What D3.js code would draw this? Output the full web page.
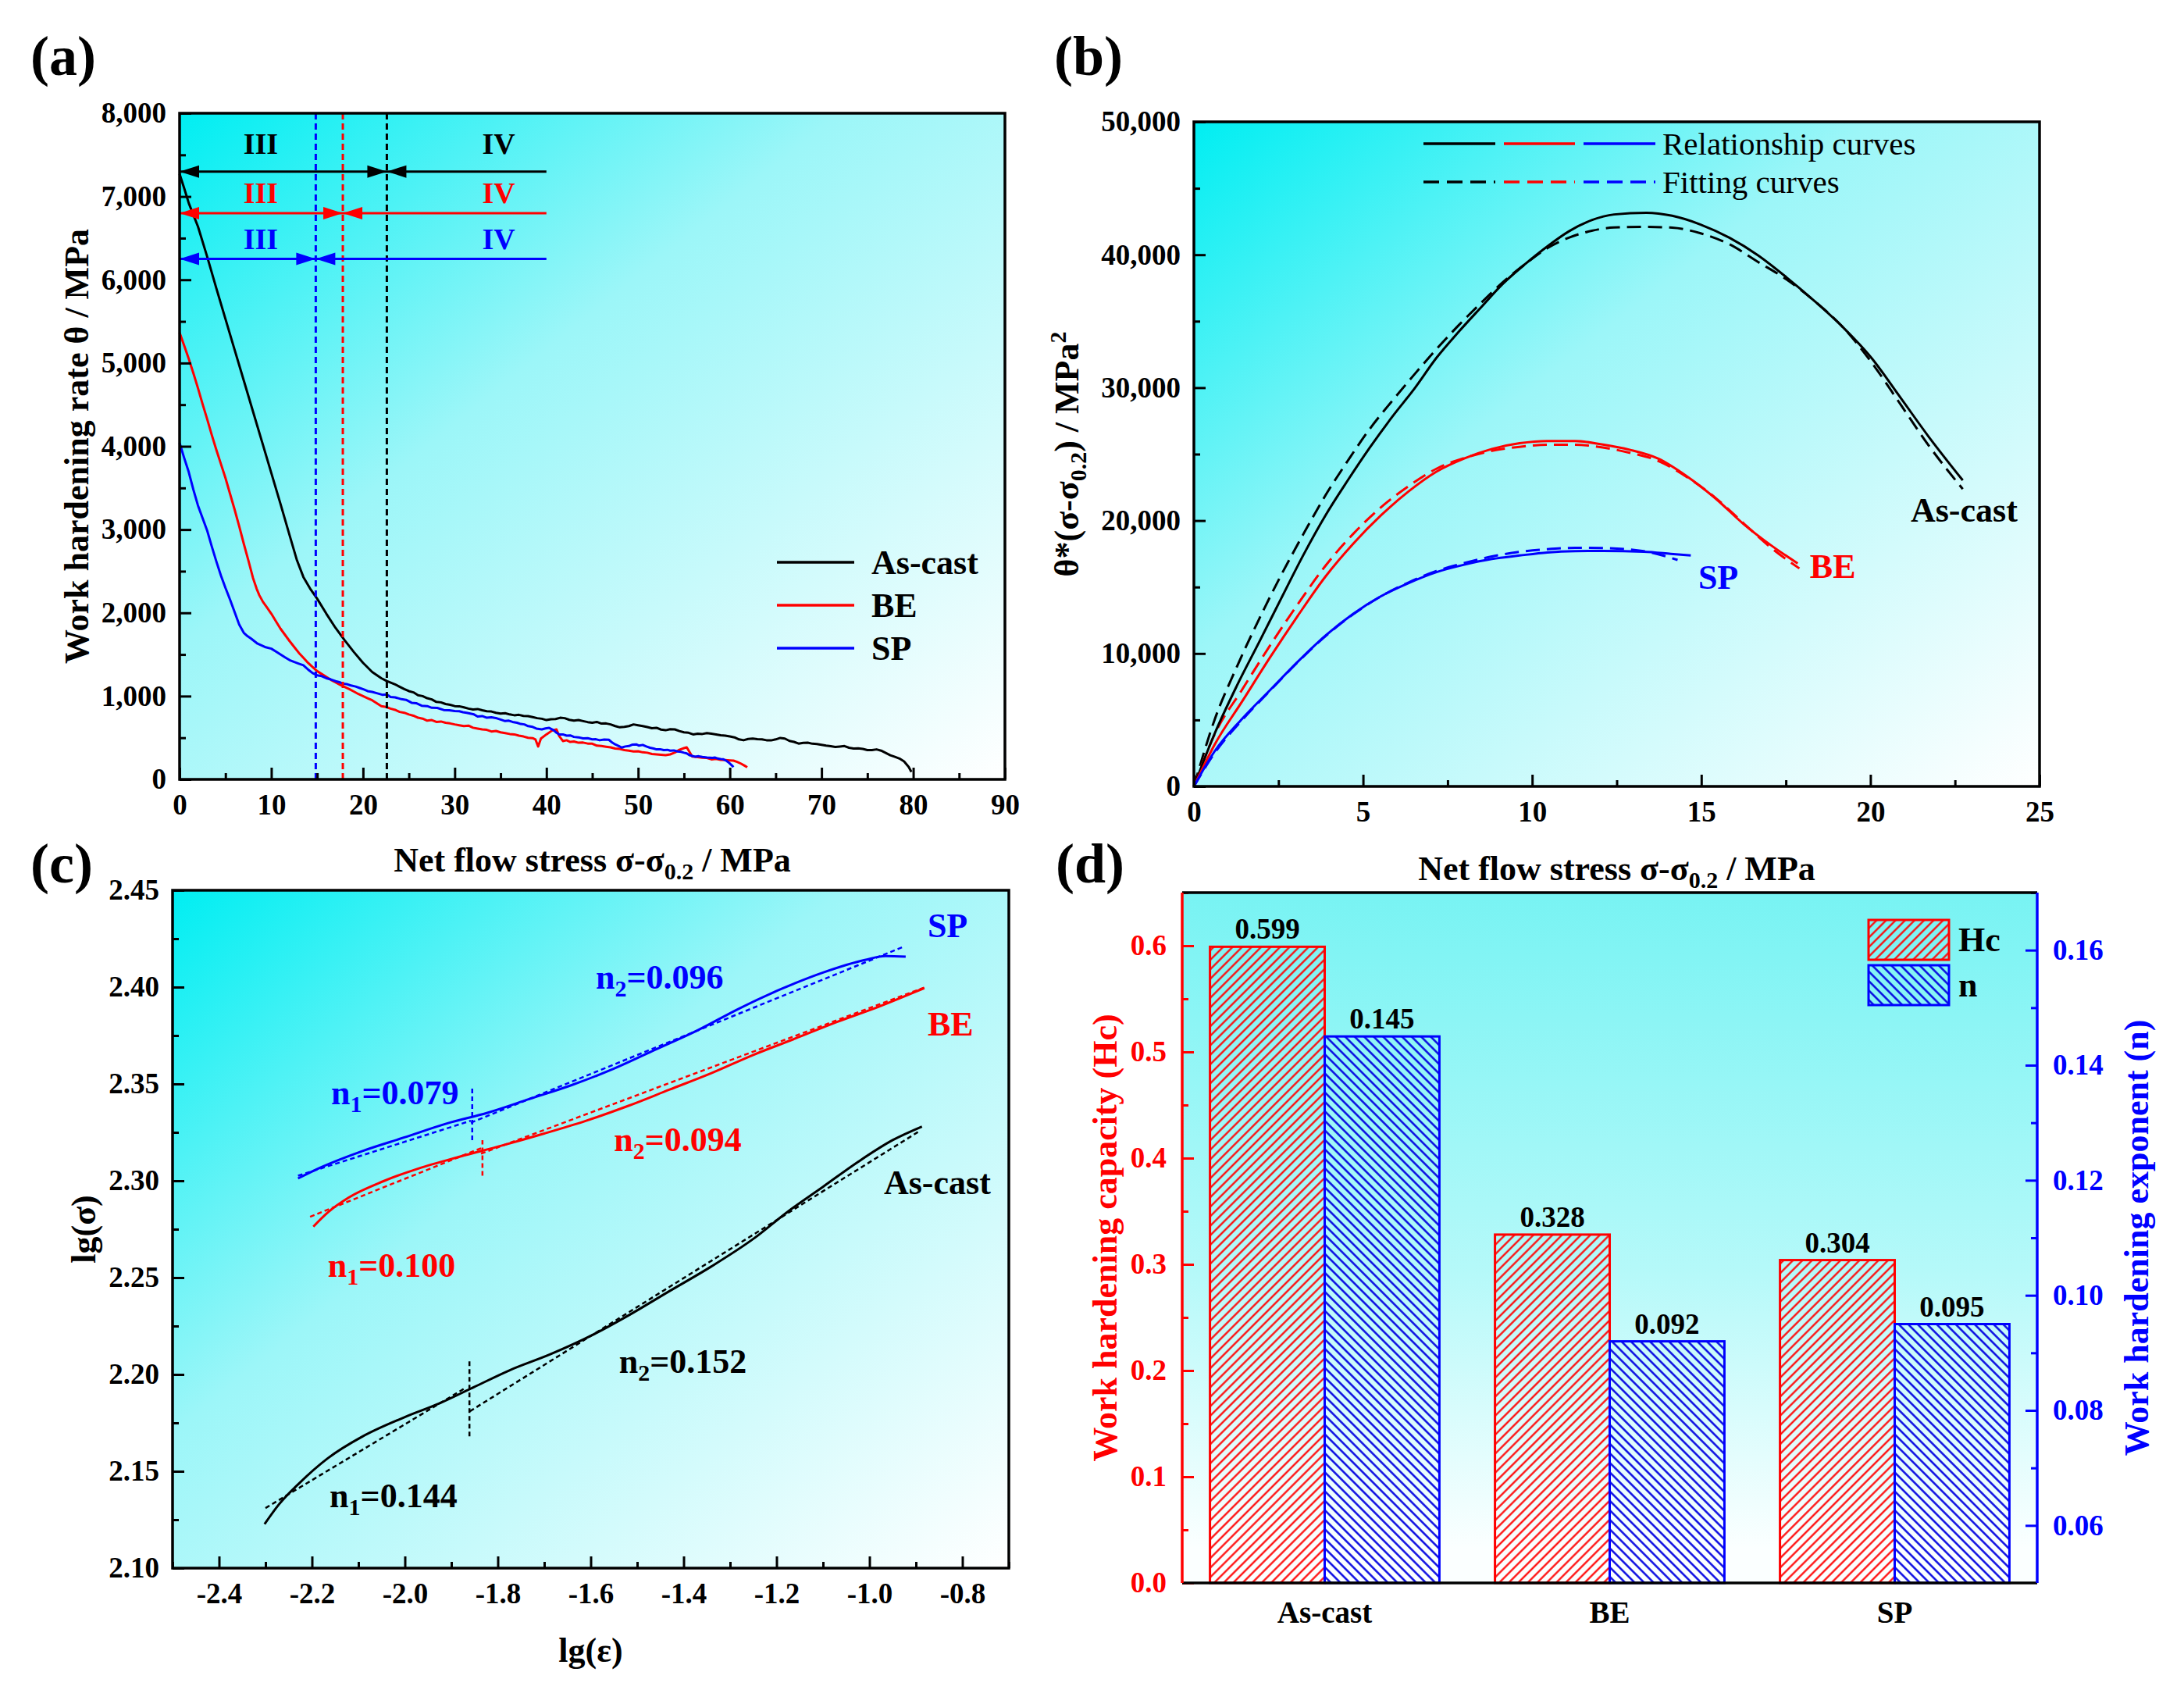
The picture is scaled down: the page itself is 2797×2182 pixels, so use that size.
<!DOCTYPE html>
<html>
<head>
<meta charset="utf-8">
<script src="https://cdn.jsdelivr.net/npm/d3@7"></script>
<style>
  body { margin: 0; background: #fff; }
  svg { display: block; }
</style>
</head>
<body>
<script>
// ---------- data: panel (a) work hardening rate vs net flow stress ----------
const aAsCast = [[0,7270],[0.5,7100],[1,6920],[2,6640],[3,6280],[4,5900],[5,5530],[6,5160],[7,4790],[8,4420],[9,4050],[10,3680],[11,3310],[12,2930],[12.8,2630],[13.5,2430],[14.3,2280],[15,2170],[16,1990],[17,1820],[18,1670],[19,1530],[20,1400],[21,1290],[22,1215],[22.6,1180],[23.5,1140],[24.5,1085],
  [25,1060],[25.5,1045],[26,1010],[26.5,1000],[27,975],[27.5,960],[28,930],[28.5,925],[29,905],[29.5,895],[30,880],[30.5,878],[31,865],[31.5,850],[32,840],[32.5,845],[33,830],[33.5,818],[34,815],[34.5,800],[35,790],[35.5,795],[36,780],[36.5,770],[37,775],[37.5,762],[38,760],[38.5,748],[39,735],[39.5,728],[40,712],[40.5,722],[41,725],[41.5,740],[42,735],[42.5,715],[43,705],[43.5,712],[44,700],[44.5,688],[45,680],[45.5,690],[46,670],[46.5,672],[47,660],[47.5,640],[48,625],[48.5,630],[49,640],[49.5,660],[50,650],[50.5,640],[51,628],[51.5,615],[52,620],[52.5,598],[53,590],[53.5,602],[54,600],[54.5,580],[55,565],[55.5,560],[56,540],[56.5,548],[57,545],[57.5,555],[58,548],[58.5,540],[59,530],[59.5,525],[60,515],[60.5,505],[61,480],[61.5,470],[62,485],[62.5,490],[63,482],[63.5,480],[64,470],[64.5,468],[65,480],[65.5,498],[66,490],[66.5,462],[67,450],[67.5,430],[68,438],[68.5,440],[69,428],[69.5,425],[70,415],[70.5,405],[71,398],[71.5,390],[72,395],[72.5,400],[73,380],[73.5,370],[74,372],[74.5,365],[75,352],[75.5,352],[76,360],[76.5,345],[77,318],[77.5,290],[78,270],[78.5,250],[79,215],[79.5,150],[79.8,90]];
const aBE = [[0,5365],[0.5,5210],[1,5050],[1.5,4880],[2,4700],[2.5,4510],[3,4330],[3.5,4140],[4,3960],[4.5,3790],[5,3620],[5.5,3430],[6,3240],[6.5,3040],[7,2830],[7.5,2630],[8,2420],[8.4,2290],[8.7,2210],[9.1,2130],[9.5,2070],[10,1990],[10.5,1900],[11,1810],[11.5,1735],[12,1660],[12.5,1590],[13,1520],[13.5,1460],[14,1400],[14.5,1350],[15,1300],[15.5,1265],[16,1230],[16.5,1195],[17,1165],[17.5,1135],[18,1110],[18.5,1085],[19,1055],[19.5,1025],
  [20,1000],[20.5,975],[21,950],[21.5,915],[22,880],[22.5,870],[23,850],[23.5,835],[24,810],[24.5,800],[25,780],[25.5,765],[26,740],[26.5,730],[27,705],[27.5,712],[28,690],[28.5,695],[29,680],[29.5,672],[30,660],[30.5,650],[31,640],[31.5,645],[32,620],[32.5,610],[33,600],[33.5,595],[34,575],[34.5,582],[35,565],[35.5,555],[36,545],[36.5,540],[37,525],[37.5,515],[38,500],[38.5,495],[38.8,480],[39.1,395],[39.4,490],[40,540],[40.6,585],[41.1,600],[41.4,520],[41.8,460],[42.2,470],[42.6,450],[43,455],[43.5,440],[44,442],[44.5,430],[45,428],[45.5,405],[46,400],[46.5,392],[47,385],[47.5,370],[48,365],[48.5,352],[49,345],[49.5,335],[50,338],[50.5,325],[51,320],[51.5,305],[52,300],[52.5,295],[53,290],[53.5,300],[54,322],[54.5,355],[55,375],[55.3,385],[55.6,330],[55.9,275],[56.5,268],[57,260],[57.5,258],[58,240],[58.5,245],[59,235],[59.5,232],[60,228],[60.4,225],[60.8,210],[61.2,190],[61.6,165],[61.9,145]];
const aSP = [[0,4040],[0.5,3860],[1,3690],[1.5,3480],[2,3290],[2.5,3140],[3,2990],[3.5,2800],[4,2620],[4.5,2450],[5,2300],[5.5,2160],[6,2010],[6.5,1860],[7,1760],[7.4,1720],[7.8,1690],[8.5,1630],[9.3,1590],[10,1570],[10.5,1536],[11,1500],[11.5,1465],[12,1432],[12.5,1410],[13,1390],[13.5,1370],[14,1320],[14.5,1276],[15,1250],[15.5,1240],[16,1215],[16.5,1200],[17,1180],[17.5,1165],[17.8,1150],[18.2,1145],[18.6,1130],[19.2,1115],[19.7,1095],[20.1,1080],
  [20.5,1060],[21,1050],[21.5,1035],[22.1,1016],[22.6,1020],[23,990],[23.5,985],[24.2,963],[24.7,955],[25.3,920],[25.8,915],[26.4,885],[27,880],[27.5,860],[28.1,858],[28.8,833],[29.4,830],[30,820],[30.5,818],[30.9,807],[31.3,800],[31.7,790],[32.1,780],[32.5,755],[33,760],[33.5,740],[34,745],[34.6,733],[35,718],[35.5,700],[35.9,705],[36.3,690],[36.8,680],[37.2,665],[37.6,660],[38,640],[38.5,630],[38.9,610],[39.5,600],[39.9,612],[40.3,618],[40.8,590],[41.1,560],[41.4,539],[41.8,540],[42.2,525],[42.6,528],[43,510],[43.5,505],[44,492],[44.5,494],[45,480],[45.4,482],[45.8,470],[46.3,478],[46.8,476],[47.2,440],[47.5,420],[47.9,400],[48.2,382],[48.6,395],[49,400],[49.4,418],[49.8,420],[50.1,405],[50.5,414],[50.9,395],[51.3,380],[51.7,370],[52,360],[52.4,362],[52.8,351],[53.2,355],[53.5,345],[53.9,348],[54.3,335],[54.7,330],[55,320],[55.3,312],[55.6,290],[55.9,282],[56.2,273],[56.6,278],[57,270],[57.5,262],[58.1,257],[58.4,262],[58.7,250],[59,245],[59.3,241],[59.6,225],[59.9,200],[60.2,170],[60.4,147]];
// stage III / IV boundaries: boundary stress, arrow level, label baseline
const aStages = [
  { name: 'As-cast', boundary: 22.6, level: 7300, labelY: 7510 },
  { name: 'BE', boundary: 17.8, level: 6800, labelY: 6921 },
  { name: 'SP', boundary: 14.85, level: 6250, labelY: 6372 }
];
const aStageLabelX = { III: 8.85, IV: 34.8 };
const aArrowEnd = 40;

// ---------- data: panel (b) theta*(sigma - sigma0.2) ----------
const bAsCastRel = [[0,0],[0.61,3950],[1.27,7570],[1.93,10860],[2.58,14140],[3.24,17430],[3.89,20390],[4.55,23030],[5.2,25490],[5.86,27800],[6.52,29930],[7.17,32240],[7.83,34210],[8.48,36020],[9.14,37830],[9.8,39310],[10.45,40630],[11.1,41780],[11.76,42600],[12.42,43030],[13.38,43160],[14.14,42930],[14.98,42270],[15.83,41280],[16.67,39970],[17.51,38320],[18.35,36510],[19.19,34540],[20.03,32240],[20.88,29280],[21.72,26320],[22.73,23030]];
const bAsCastFit = [[0,0],[0.61,5000],[1.27,9000],[1.93,12600],[2.58,15900],[3.24,19000],[3.89,21900],[4.55,24500],[5.2,26900],[5.86,29000],[6.52,31000],[7.17,32900],[7.83,34700],[8.48,36350],[9.14,37950],[9.8,39310],[10.45,40500],[11.1,41300],[11.76,41800],[12.42,42050],[13.3,42100],[14.14,42040],[14.98,41610],[15.83,40790],[16.67,39470],[17.51,38160],[18.35,36510],[19.19,34540],[20.03,31910],[20.88,28780],[21.72,25660],[22.73,22370]];
const bBERel = [[0,0],[0.61,3130],[1.43,6410],[2.25,9700],[3.07,12830],[3.89,15790],[4.71,18260],[5.53,20390],[6.35,22200],[7.17,23680],[7.99,24670],[8.81,25390],[9.63,25820],[10.45,25990],[11.27,25990],[12.09,25720],[12.88,25330],[13.72,24670],[14.56,23360],[15.4,21710],[16.25,19740],[17.09,18090],[17.85,16780]];
const bBEFit = [[0,0],[0.61,3900],[1.43,7300],[2.25,10600],[3.07,13700],[3.89,16600],[4.71,19000],[5.53,21000],[6.35,22600],[7.17,23900],[7.99,24700],[8.81,25250],[9.63,25550],[10.45,25700],[11.27,25700],[12.09,25500],[12.88,25100],[13.72,24500],[14.56,23300],[15.4,21750],[16.25,19800],[17.09,17900],[17.9,16400]];
const bSPRel = [[0,0],[0.61,2630],[1.43,5100],[2.25,7240],[3.07,9380],[3.89,11350],[4.71,12990],[5.53,14310],[6.35,15300],[7.17,16120],[7.99,16680],[8.81,17110],[9.63,17370],[10.45,17600],[11.27,17700],[12.09,17720],[13.3,17660],[14.1,17500],[14.69,17370]];
const bSPFit = [[0,0],[0.61,2500],[1.43,5000],[2.25,7200],[3.07,9350],[3.89,11300],[4.71,12950],[5.53,14300],[6.35,15350],[7.17,16200],[7.99,16800],[8.81,17300],[9.63,17650],[10.45,17850],[11.27,17950],[12.09,17930],[13.3,17700],[14.3,17040]];
const bLabels = [
  { text: 'As-cast', x: 21.19, y: 19900, color: '#000' },
  { text: 'BE', x: 18.21, y: 15690, color: '#ff0000' },
  { text: 'SP', x: 14.91, y: 14850, color: '#0000ff' }
];

// ---------- data: panel (c) lg(sigma) vs lg(epsilon) ----------
const cAsCast = [[-2.302,2.1227],[-2.272,2.1326],[-2.227,2.1439],[-2.166,2.1567],[-2.091,2.168],[-2.001,2.1779],[-1.926,2.185],[-1.851,2.1935],[-1.776,2.202],[-1.686,2.2105],[-1.596,2.2204],[-1.520,2.2303],[-1.430,2.2431],[-1.340,2.2558],[-1.250,2.27],[-1.175,2.2842],[-1.100,2.2969],[-1.025,2.3097],[-0.950,2.321],[-0.887,2.328]];
const cBE = [[-2.197,2.2763],[-2.166,2.2836],[-2.121,2.2913],[-2.046,2.2998],[-1.971,2.3063],[-1.881,2.3125],[-1.791,2.3182],[-1.700,2.3244],[-1.611,2.3309],[-1.520,2.3386],[-1.430,2.3471],[-1.340,2.3556],[-1.250,2.365],[-1.160,2.3734],[-1.070,2.382],[-0.980,2.3899],[-0.882,2.3995]];
const cSP = [[-2.230,2.3012],[-2.181,2.3069],[-2.091,2.3154],[-2.001,2.3224],[-1.911,2.3295],[-1.821,2.3352],[-1.731,2.3423],[-1.641,2.3494],[-1.550,2.3579],[-1.460,2.3678],[-1.370,2.3777],[-1.280,2.389],[-1.190,2.399],[-1.100,2.4075],[-1.010,2.414],[-0.965,2.416],[-0.922,2.4157]];
// fitted straight segments (stage 1 and stage 2) and split markers
const cFits = [
  { color: '#000', segs: [[[-2.30,2.131],[-1.87,2.193]], [[-1.86,2.181],[-0.89,2.326]]], mark: [-1.861, 2.168, 2.2077] },
  { color: '#ff0000', segs: [[[-2.204,2.2814],[-1.836,2.3168]], [[-1.836,2.314],[-0.882,2.3998]]], mark: [-1.833, 2.3026, 2.321] },
  { color: '#0000ff', segs: [[[-2.23,2.3026],[-1.858,2.331]], [[-1.858,2.330],[-0.927,2.4208]]], mark: [-1.855, 2.321, 2.348] }
];
const cNames = [
  { text: 'SP', x: -0.875, y: 2.426, color: '#0000ff' },
  { text: 'BE', x: -0.875, y: 2.375, color: '#ff0000' },
  { text: 'As-cast', x: -0.969, y: 2.293, color: '#000' }
];
const cExponents = [
  { sub: '2', value: '0.096', x: -1.589, y: 2.399, color: '#0000ff' },
  { sub: '1', value: '0.079', x: -2.159, y: 2.3395, color: '#0000ff' },
  { sub: '2', value: '0.094', x: -1.550, y: 2.3153, color: '#ff0000' },
  { sub: '1', value: '0.100', x: -2.166, y: 2.2504, color: '#ff0000' },
  { sub: '2', value: '0.152', x: -1.539, y: 2.2008, color: '#000' },
  { sub: '1', value: '0.144', x: -2.162, y: 2.1315, color: '#000' }
];

// ---------- data: panel (d) bars ----------
const categories = ['As-cast', 'BE', 'SP'];
const hcValues = [0.599, 0.328, 0.304];
const nValues = [0.145, 0.092, 0.095];

// ---------- layout ----------
const W = 2797, H = 2182;
const FONT = '"Liberation Serif","Times New Roman",serif';
const RED = '#ff0000', BLUE = '#0000ff';
const A = { left: 230, right: 1287, top: 145, bottom: 998 };
const B = { left: 1529, right: 2612, top: 156, bottom: 1007 };
const C = { left: 221, right: 1292, top: 1140, bottom: 2008 };
const D = { left: 1514, right: 2609, top: 1143, bottom: 2027 };

const svg = d3.select('body').append('svg').attr('width', W).attr('height', H);
svg.append('rect').attr('width', W).attr('height', H).attr('fill', '#fff');
const defs = svg.append('defs');

const diag = defs.append('linearGradient').attr('id', 'bgDiag')
  .attr('x1', 0).attr('y1', 0).attr('x2', 1).attr('y2', 1);
diag.append('stop').attr('offset', 0).attr('stop-color', '#00eef2');
diag.append('stop').attr('offset', 0.4).attr('stop-color', '#9cf6f8');
diag.append('stop').attr('offset', 1).attr('stop-color', '#ffffff');

const vert = defs.append('linearGradient').attr('id', 'bgVert')
  .attr('x1', 0).attr('y1', 0).attr('x2', 0).attr('y2', 1);
vert.append('stop').attr('offset', 0).attr('stop-color', '#78f3f3');
vert.append('stop').attr('offset', 0.55).attr('stop-color', '#b5f9f9');
vert.append('stop').attr('offset', 0.95).attr('stop-color', '#fbffff');

function hatch(id, color, angle, sw) {
  const p = defs.append('pattern').attr('id', id).attr('patternUnits', 'userSpaceOnUse')
    .attr('width', 8.6).attr('height', 8.6).attr('patternTransform', `rotate(${angle})`);
  p.append('line').attr('x1', 4.3).attr('y1', -1).attr('x2', 4.3).attr('y2', 9.6)
    .attr('stroke', color).attr('stroke-width', sw);
}
hatch('hatchRed', RED, 45, 2.2);
hatch('hatchBlue', '#0000e0', -45, 2.4);

// ---------- helpers ----------
function panelBg(box, fill) {
  svg.append('rect').attr('x', box.left).attr('y', box.top)
    .attr('width', box.right - box.left).attr('height', box.bottom - box.top).attr('fill', fill);
}
function frame(box) {
  svg.append('rect').attr('x', box.left).attr('y', box.top)
    .attr('width', box.right - box.left).attr('height', box.bottom - box.top)
    .attr('fill', 'none').attr('stroke', '#000').attr('stroke-width', 3.5);
}
function axis(kind, scale, at, major, minor, fmt, color, pad) {
  const make = { bottom: d3.axisBottom, left: d3.axisLeft, right: d3.axisRight }[kind];
  const tr = kind === 'bottom' ? `translate(0,${at})` : `translate(${at},0)`;
  const gm = svg.append('g').attr('transform', tr)
    .call(make(scale).tickValues(minor).tickSize(-8).tickFormat(''));
  const gM = svg.append('g').attr('transform', tr)
    .call(make(scale).tickValues(major).tickSize(-15).tickPadding(pad).tickFormat(fmt));
  [gm, gM].forEach(a => {
    a.select('.domain').remove();
    a.selectAll('line').attr('stroke', color).attr('stroke-width', 3);
  });
  gM.selectAll('text').attr('font-family', FONT).attr('font-weight', 'bold')
    .attr('font-size', 37).attr('fill', color);
}
function label(x, y, txt, opts = {}) {
  return svg.append('text').attr('x', x).attr('y', y)
    .attr('font-family', FONT).attr('font-weight', opts.weight || 'bold')
    .attr('font-size', opts.size || 44).attr('fill', opts.color || '#000')
    .attr('text-anchor', opts.anchor || 'start').text(txt);
}
function yTitle(cx, cy, parts, color) {
  const t = svg.append('text').attr('transform', `translate(${cx},${cy}) rotate(-90)`)
    .attr('y', 15).attr('text-anchor', 'middle').attr('font-family', FONT)
    .attr('font-weight', 'bold').attr('font-size', 44).attr('fill', color || '#000');
  parts.forEach(p => {
    const s = t.append('tspan').text(p.t);
    if (p.dy) s.attr('dy', p.dy);
    if (p.size) s.attr('font-size', p.size);
  });
}
function netFlowTitle(cx, y) {
  const t = svg.append('text').attr('x', cx).attr('y', y).attr('text-anchor', 'middle')
    .attr('font-family', FONT).attr('font-weight', 'bold').attr('font-size', 44);
  t.append('tspan').text('Net flow stress σ-σ');
  t.append('tspan').attr('dy', 10).attr('font-size', 30).text('0.2');
  t.append('tspan').attr('dy', -10).text(' / MPa');
}
const dec = n => d => d.toFixed(n);

// ================= panel (a) =================
const xa = d3.scaleLinear().domain([0, 90]).range([A.left, A.right]);
const ya = d3.scaleLinear().domain([0, 8000]).range([A.bottom, A.top]);
panelBg(A, 'url(#bgDiag)');

const lineA = d3.line().x(d => xa(d[0])).y(d => ya(d[1]));
[[aAsCast, '#000'], [aBE, RED], [aSP, BLUE]].forEach(([data, col]) => {
  svg.append('path').datum(data).attr('d', lineA).attr('fill', 'none')
    .attr('stroke', col).attr('stroke-width', 3).attr('stroke-linejoin', 'round');
});

const stageColor = { 'As-cast': '#000', BE: RED, SP: BLUE };
function arrowHead(tx, ty, dir, color) {
  const L = 25, hw = 8;
  svg.append('path')
    .attr('d', `M${tx},${ty}L${tx - dir * L},${ty - hw}L${tx - dir * L},${ty + hw}Z`)
    .attr('fill', color);
}
aStages.forEach(s => {
  const col = stageColor[s.name];
  svg.append('line').attr('x1', xa(s.boundary)).attr('x2', xa(s.boundary))
    .attr('y1', ya(0)).attr('y2', ya(8000)).attr('stroke', col)
    .attr('stroke-width', 3).attr('stroke-dasharray', '8,5');
});
aStages.forEach(s => {
  const col = stageColor[s.name];
  const yy = ya(s.level);
  svg.append('line').attr('x1', xa(0)).attr('x2', xa(aArrowEnd)).attr('y1', yy).attr('y2', yy)
    .attr('stroke', col).attr('stroke-width', 3);
  arrowHead(xa(0), yy, -1, col);
  arrowHead(xa(s.boundary), yy, 1, col);
  arrowHead(xa(s.boundary), yy, -1, col);
  label(xa(aStageLabelX.III), ya(s.labelY), 'III', { size: 38, color: col, anchor: 'middle' });
  label(xa(aStageLabelX.IV), ya(s.labelY), 'IV', { size: 38, color: col, anchor: 'middle' });
});

// legend (a)
[['As-cast', '#000', 720], ['BE', RED, 775], ['SP', BLUE, 830]].forEach(([name, col, y]) => {
  svg.append('line').attr('x1', 995).attr('x2', 1094).attr('y1', y).attr('y2', y)
    .attr('stroke', col).attr('stroke-width', 3.5);
  label(1116, y + 15, name, { size: 44 });
});

axis('bottom', xa, A.bottom, d3.range(0, 91, 10), d3.range(5, 90, 10), d3.format('d'), '#000', 19);
axis('left', ya, A.left, d3.range(0, 8001, 1000), d3.range(500, 8000, 1000), d3.format(','), '#000', 17);
frame(A);
yTitle(98, (A.top + A.bottom) / 2, [{ t: 'Work hardening rate θ / MPa' }]);
netFlowTitle((A.left + A.right) / 2, 1116);
label(39, 96, '(a)', { size: 72 });

// ================= panel (b) =================
const xb = d3.scaleLinear().domain([0, 25]).range([B.left, B.right]);
const yb = d3.scaleLinear().domain([0, 50000]).range([B.bottom, B.top]);
panelBg(B, 'url(#bgDiag)');
const lineB = d3.line().curve(d3.curveMonotoneX).x(d => xb(d[0])).y(d => yb(d[1]));
[[bAsCastFit, '#000'], [bBEFit, RED], [bSPFit, BLUE]].forEach(([data, col]) => {
  svg.append('path').datum(data).attr('d', lineB).attr('fill', 'none')
    .attr('stroke', col).attr('stroke-width', 3).attr('stroke-dasharray', '18,9');
});
[[bAsCastRel, '#000'], [bBERel, RED], [bSPRel, BLUE]].forEach(([data, col]) => {
  svg.append('path').datum(data).attr('d', lineB).attr('fill', 'none')
    .attr('stroke', col).attr('stroke-width', 3);
});
bLabels.forEach(l => label(xb(l.x), yb(l.y), l.text, { color: l.color }));

// legend (b)
[[1823, 1915, '#000'], [1926, 2017, RED], [2028, 2120, BLUE]].forEach(([x1, x2, col]) => {
  svg.append('line').attr('x1', x1).attr('x2', x2).attr('y1', 184).attr('y2', 184)
    .attr('stroke', col).attr('stroke-width', 3.5);
  svg.append('line').attr('x1', x1).attr('x2', x2).attr('y1', 233).attr('y2', 233)
    .attr('stroke', col).attr('stroke-width', 3.5).attr('stroke-dasharray', '20,10');
});
label(2129, 198, 'Relationship curves', { weight: 'normal', size: 41 });
label(2129, 247, 'Fitting curves', { weight: 'normal', size: 41 });

axis('bottom', xb, B.bottom, d3.range(0, 26, 5), [2.5, 7.5, 12.5, 17.5, 22.5], d3.format('d'), '#000', 19);
axis('left', yb, B.left, d3.range(0, 50001, 10000), d3.range(5000, 50000, 10000), d3.format(','), '#000', 17);
frame(B);
yTitle(1366, (B.top + B.bottom) / 2, [
  { t: 'θ*(σ-σ' }, { t: '0.2', dy: 10, size: 30 }, { t: ') / MPa', dy: -10 }, { t: '2', dy: -16, size: 30 }
]);
netFlowTitle((B.left + B.right) / 2, 1127);
label(1350, 96, '(b)', { size: 72 });

// ================= panel (c) =================
const xc = d3.scaleLinear().domain([-2.5, -0.7]).range([C.left, C.right]);
const yc = d3.scaleLinear().domain([2.10, 2.45]).range([C.bottom, C.top]);
panelBg(C, 'url(#bgDiag)');
const lineC = d3.line().curve(d3.curveMonotoneX).x(d => xc(d[0])).y(d => yc(d[1]));
cFits.forEach(f => {
  f.segs.forEach(seg => {
    svg.append('path').datum(seg).attr('d', d3.line().x(d => xc(d[0])).y(d => yc(d[1])))
      .attr('fill', 'none').attr('stroke', f.color).attr('stroke-width', 2.5).attr('stroke-dasharray', '6,4');
  });
  svg.append('line').attr('x1', xc(f.mark[0])).attr('x2', xc(f.mark[0]))
    .attr('y1', yc(f.mark[1])).attr('y2', yc(f.mark[2]))
    .attr('stroke', f.color).attr('stroke-width', 2.5).attr('stroke-dasharray', '6,4');
});
[[cAsCast, '#000'], [cBE, RED], [cSP, BLUE]].forEach(([data, col]) => {
  svg.append('path').datum(data).attr('d', lineC).attr('fill', 'none')
    .attr('stroke', col).attr('stroke-width', 3);
});
cNames.forEach(l => label(xc(l.x), yc(l.y), l.text, { color: l.color }));
cExponents.forEach(e => {
  const t = label(xc(e.x), yc(e.y), '', { color: e.color });
  t.append('tspan').text('n');
  t.append('tspan').attr('dy', 10).attr('font-size', 30).text(e.sub);
  t.append('tspan').attr('dy', -10).text('=' + e.value);
});

axis('bottom', xc, C.bottom, [-2.4, -2.2, -2.0, -1.8, -1.6, -1.4, -1.2, -1.0, -0.8],
  [-2.5, -2.3, -2.1, -1.9, -1.7, -1.5, -1.3, -1.1, -0.9, -0.7], dec(1), '#000', 19);
axis('left', yc, C.left, [2.10, 2.15, 2.20, 2.25, 2.30, 2.35, 2.40, 2.45],
  [2.125, 2.175, 2.225, 2.275, 2.325, 2.375, 2.425], dec(2), '#000', 17);
frame(C);
yTitle(107, (C.top + C.bottom) / 2, [{ t: 'lg(σ)' }]);
label((C.left + C.right) / 2, 2128, 'lg(ε)', { anchor: 'middle' });
label(39, 1130, '(c)', { size: 72 });

// ================= panel (d) =================
const xd = d3.scaleBand().domain(categories).range([D.left, D.right])
  .paddingInner(0.195).paddingOuter(0.0975);
const xs = d3.scaleBand().domain(['Hc', 'n']).range([0, xd.bandwidth()]);
const ydl = d3.scaleLinear().domain([0, 0.65]).range([D.bottom, D.top]);
const ydr = d3.scaleLinear().domain([0.05, 0.17]).range([D.bottom, D.top]);
panelBg(D, 'url(#bgVert)');

categories.forEach((c, i) => {
  const xh = xd(c) + xs('Hc'), xn = xd(c) + xs('n'), bw = xs.bandwidth();
  svg.append('rect').attr('x', xh).attr('y', ydl(hcValues[i])).attr('width', bw)
    .attr('height', ydl(0) - ydl(hcValues[i])).attr('fill', 'url(#hatchRed)')
    .attr('stroke', RED).attr('stroke-width', 3);
  svg.append('rect').attr('x', xn).attr('y', ydr(nValues[i])).attr('width', bw)
    .attr('height', ydr(0.05) - ydr(nValues[i])).attr('fill', 'url(#hatchBlue)')
    .attr('stroke', BLUE).attr('stroke-width', 3);
  label(xh + bw / 2, ydl(hcValues[i]) - 10, hcValues[i].toFixed(3), { size: 37, anchor: 'middle' });
  label(xn + bw / 2, ydr(nValues[i]) - 10, nValues[i].toFixed(3), { size: 37, anchor: 'middle' });
  label(xd(c) + xd.bandwidth() / 2, 2078, c, { size: 39, anchor: 'middle' });
});

// legend (d)
[['Hc', 'url(#hatchRed)', RED, 1178], ['n', 'url(#hatchBlue)', BLUE, 1236]].forEach(([name, fill, col, y]) => {
  svg.append('rect').attr('x', 2393).attr('y', y).attr('width', 103).attr('height', 51)
    .attr('fill', fill).attr('stroke', col).attr('stroke-width', 3);
  label(2508, y + 40, name, { size: 44 });
});

axis('left', ydl, D.left, d3.range(0, 0.61, 0.1), [0.05, 0.15, 0.25, 0.35, 0.45, 0.55, 0.65], dec(1), RED, 20);
axis('right', ydr, D.right, [0.06, 0.08, 0.10, 0.12, 0.14, 0.16], [0.07, 0.09, 0.11, 0.13, 0.15, 0.17], dec(2), BLUE, 20);
svg.append('line').attr('x1', D.left).attr('x2', D.right).attr('y1', D.top).attr('y2', D.top)
  .attr('stroke', '#000').attr('stroke-width', 3.5);
svg.append('line').attr('x1', D.left).attr('x2', D.right).attr('y1', D.bottom).attr('y2', D.bottom)
  .attr('stroke', '#000').attr('stroke-width', 3.5);
svg.append('line').attr('x1', D.left).attr('x2', D.left).attr('y1', D.top).attr('y2', D.bottom)
  .attr('stroke', RED).attr('stroke-width', 3.5);
svg.append('line').attr('x1', D.right).attr('x2', D.right).attr('y1', D.top).attr('y2', D.bottom)
  .attr('stroke', BLUE).attr('stroke-width', 3.5);
yTitle(1415, (D.top + D.bottom) / 2, [{ t: 'Work hardening capacity (Hc)' }], RED);
yTitle(2736, (D.top + D.bottom) / 2, [{ t: 'Work hardening exponent (n)' }], BLUE);
label(1352, 1130, '(d)', { size: 72 });
</script>
</body>
</html>
